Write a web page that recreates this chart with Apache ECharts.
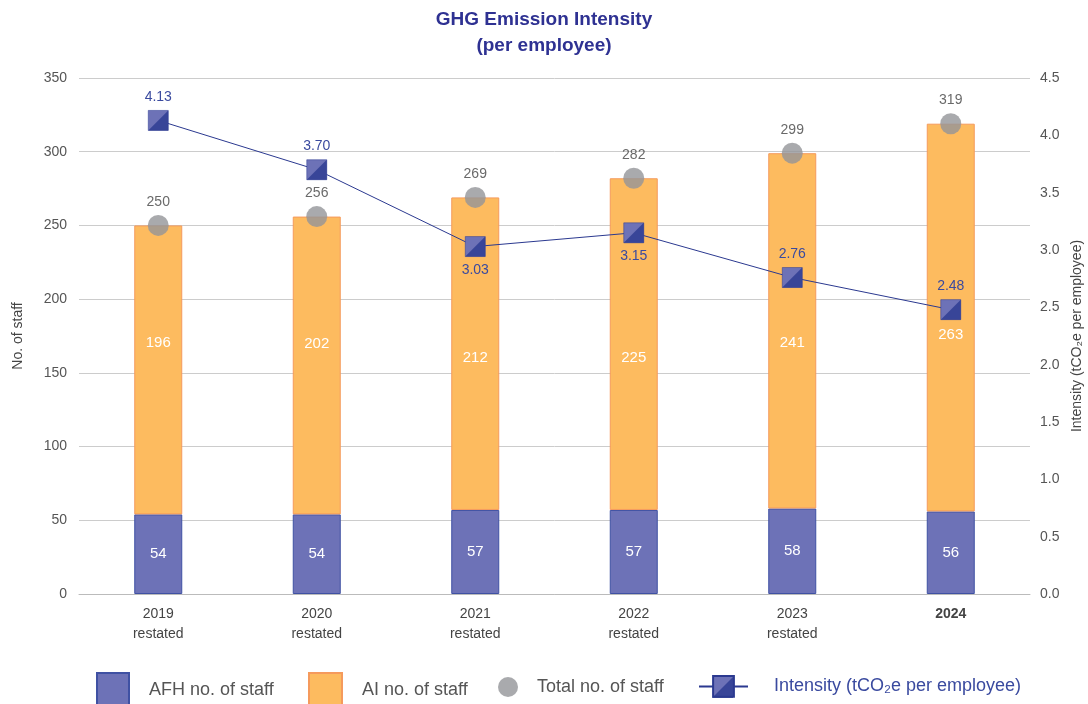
<!DOCTYPE html>
<html>
<head>
<meta charset="utf-8">
<script src="https://cdn.jsdelivr.net/npm/echarts@6/dist/echarts.min.js"></script>
<style>
  html, body { margin: 0; padding: 0; background: #fff; }
  #chart { width: 1088px; height: 704px; }
</style>
</head>
<body>
<div id="chart"></div>
<script>
// data
var years = ['2019', '2020', '2021', '2022', '2023', '2024'];
var yearNotes = ['restated', 'restated', 'restated', 'restated', 'restated', ''];
var afhStaff = [54, 54, 57, 57, 58, 56];
var aiStaff = [196, 202, 212, 225, 241, 263];
var totalStaff = [250, 256, 269, 282, 299, 319];
var intensity = [4.13, 3.70, 3.03, 3.15, 2.76, 2.48];

// label placement (style only)
var intensityLabelSide = ['top', 'top', 'bottom', 'bottom', 'top', 'top'];
var aiLabelShift = [-27, -22, 4, 14, 12, 17];

var FONT = '"Liberation Sans", Arial, sans-serif';
var NAVY = '#2b3990';
var SHADE_PATH = 'path://M20,0 L20,20 L0,20 Z';

var chart = echarts.init(document.getElementById('chart'));

var categories = years.map(function (y, i) {
  return yearNotes[i] ? y + '\n' + yearNotes[i] : y;
});

var intensityData = intensity.map(function (v, i) {
  return { value: v, label: { position: intensityLabelSide[i] } };
});

var aiData = aiStaff.map(function (v, i) {
  return { value: v, label: { offset: [0, aiLabelShift[i]] } };
});

function legendText(pad, color) {
  return { fontFamily: FONT, fontSize: 18, color: color || '#555', padding: [0, 0, 0, pad] };
}

var option = {
  backgroundColor: '#fff',
  animation: false,
  title: {
    text: 'GHG Emission Intensity\n(per employee)',
    left: 'center',
    top: 2,
    textStyle: {
      fontFamily: FONT, fontSize: 19, fontWeight: 'bold', color: '#2e3192', lineHeight: 26
    }
  },
  legend: [
    {
      data: ['AFH no. of staff'], left: 91, top: 667, icon: 'rect',
      itemWidth: 32, itemHeight: 34, textStyle: legendText(15)
    },
    {
      data: ['AI no. of staff'], left: 303, top: 667, icon: 'rect',
      itemWidth: 33, itemHeight: 34, textStyle: legendText(15)
    },
    {
      data: ['Total no. of staff'], left: 493, top: 672, icon: 'circle',
      itemWidth: 20, itemHeight: 20, textStyle: legendText(14)
    },
    {
      data: ['Intensity (tCO₂e per employee)'], left: 693, top: 670,
      itemWidth: 49, itemHeight: 26, textStyle: legendText(21, '#3a4a9f')
    },
    {
      // dark half of the legend marker, laid over the one above
      data: ['intensityShade'], left: 707, top: 672, icon: SHADE_PATH,
      itemWidth: 21, itemHeight: 21, z: 10,
      formatter: function () { return ''; },
      textStyle: { fontSize: 8 }
    }
  ],
  grid: { left: 79, right: 58, top: 78, bottom: 110, outerBoundsMode: 'none' },
  xAxis: {
    type: 'category',
    data: categories,
    axisTick: { show: false },
    axisLine: { lineStyle: { color: '#bbb' } },
    axisLabel: {
      fontFamily: FONT, fontSize: 14, color: '#444', lineHeight: 20, margin: 10,
      formatter: function (v) {
        return v.indexOf('\n') < 0 ? '{b|' + v + '}' : v;
      },
      rich: { b: { fontFamily: FONT, fontSize: 14, fontWeight: 'bold', color: '#444' } }
    }
  },
  yAxis: [
    {
      type: 'value', min: 0, max: 350, interval: 50,
      name: 'No. of staff', nameLocation: 'middle', nameGap: 54, nameRotate: 90,
      nameTextStyle: { fontFamily: FONT, fontSize: 14, color: '#444' },
      axisLabel: { fontFamily: FONT, fontSize: 14, color: '#555', margin: 12 },
      splitLine: { lineStyle: { color: '#ccc' } },
      axisLine: { show: false }, axisTick: { show: false }
    },
    {
      type: 'value', min: 0, max: 4.5, interval: 0.5,
      name: 'Intensity (tCO₂e per employee)', nameLocation: 'middle', nameGap: 40, nameRotate: 90,
      nameTextStyle: { fontFamily: FONT, fontSize: 14, color: '#444' },
      axisLabel: {
        fontFamily: FONT, fontSize: 14, color: '#555', margin: 10,
        formatter: function (v) { return v.toFixed(1); }
      },
      splitLine: { show: false }, axisLine: { show: false }, axisTick: { show: false }
    }
  ],
  series: [
    {
      name: 'AFH no. of staff', type: 'bar', stack: 'staff', barWidth: 48,
      data: afhStaff,
      itemStyle: { color: '#6d72b7', borderColor: '#3f51a3', borderWidth: 1 },
      label: { show: true, position: 'inside', color: '#fff', fontFamily: FONT, fontSize: 15 }
    },
    {
      name: 'AI no. of staff', type: 'bar', stack: 'staff', barWidth: 48,
      data: aiData,
      itemStyle: { color: '#fdbb5f', borderColor: '#f59a5c', borderWidth: 1 },
      label: { show: true, position: 'inside', color: '#fff', fontFamily: FONT, fontSize: 15 }
    },
    {
      name: 'Total no. of staff', type: 'scatter', data: totalStaff,
      symbol: 'circle', symbolSize: 21, z: 5,
      itemStyle: { color: '#939598' },
      label: {
        show: true, position: 'top', distance: 6, color: '#444',
        fontFamily: FONT, fontSize: 14
      }
    },
    {
      name: 'Intensity (tCO₂e per employee)', type: 'line', yAxisIndex: 1,
      data: intensityData, symbol: 'rect', symbolSize: 20, z: 6,
      lineStyle: { color: NAVY, width: 1 },
      itemStyle: { color: '#6d72b7', borderColor: NAVY, borderWidth: 0.5 },
      label: {
        show: true, distance: 6, color: '#3a4a9f', fontFamily: FONT, fontSize: 14,
        formatter: function (p) { return p.value.toFixed(2); }
      }
    },
    {
      // dark lower-right half of the intensity markers
      name: 'intensityShade', type: 'scatter', yAxisIndex: 1,
      data: intensity, symbol: SHADE_PATH, symbolSize: 20, z: 7,
      itemStyle: { color: NAVY }, silent: true
    }
  ]
};

chart.setOption(option);
window.addEventListener('resize', function () {
  chart.resize();
});
</script>
</body>
</html>
